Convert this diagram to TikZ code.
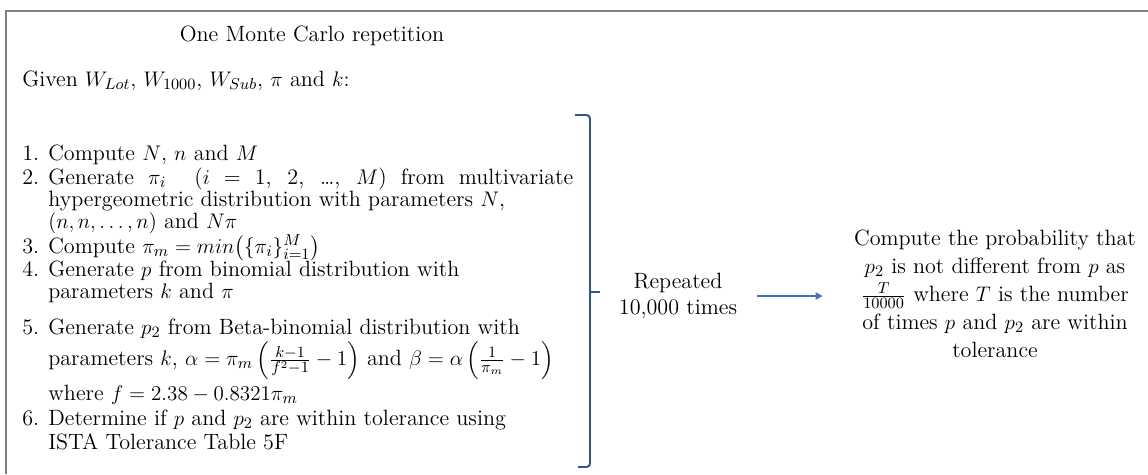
\documentclass[tikz,border=0pt]{standalone}
\usepackage{amsmath}
\usetikzlibrary{arrows.meta}
\definecolor{framegray}{RGB}{128,128,128}
\definecolor{bracketblue}{RGB}{47,85,151}
\definecolor{arrowblue}{RGB}{68,114,196}
\tikzset{txt/.style={inner sep=0pt, font=\fontsize{12.6}{12.5}\selectfont}}

\begin{document}
\begin{tikzpicture}[x=0.02cm, y=-0.02cm]
	\useasboundingbox (0,0) rectangle (1148,474);
	% frame
	\draw[framegray, line width=1.1pt] (6,474) -- (6,11) -- (1148,11);
	
	% Heading
	\node[txt, anchor=base] (title) at (312,41) {One Monte Carlo repetition};
	\node[txt, anchor=base west] (given) at (22,86) {Given $W_{Lot}$, $W_{1000}$, $W_{Sub}$, $\pi$ and $k$:};
	
	% Steps
	\node[txt, anchor=north west] (steps) at (22,145) {%
		\begin{tabular}{@{}p{0.52cm}@{}l@{}}
			1. & Compute $N$, $n$ and $M$\\
			2. & \makebox[10.5cm][s]{Generate $\pi_i$\ \ ($i$ = 1, 2, \ldots, $M$) from multivariate}\\
			& hypergeometric distribution with parameters $N$,\\
			& $(n, n, \ldots, n)$ and $N\pi$\\
			3. & Compute $\pi_m = min\bigl(\{\pi_i\}_{i=1}^{M}\bigr)$\\
			4. & Generate $p$ from binomial distribution with\\
			& parameters $k$ and $\pi$\\[8pt]
			5. & Generate $p_2$ from Beta-binomial distribution with\\
			& parameters $k$, $\alpha = \pi_m\left(\frac{k-1}{f^2-1}-1\right)$ and $\beta = \alpha\left(\frac{1}{\pi_m}-1\right)$\\[7.3pt]
			& where $f = 2.38 - 0.8321\pi_m$\\[1.7pt]
			6. & Determine if $p$ and $p_2$ are within tolerance using\\[1pt]
			& ISTA Tolerance Table 5F
		\end{tabular}};
	
	% Bracket
	\draw[bracketblue, line width=1.1pt, rounded corners=2pt] (575,115) -- (590,115) -- (590,467) -- (578,467);
	\draw[bracketblue, line width=1.1pt] (590,292) -- (600,292);
	
	% Repeat and result
	\node[txt, align=center, font=\fontsize{12.6}{14.7}\selectfont] (repeat) at (678,296) {Repeated\\10,000 times};
	\node[txt, align=center, font=\fontsize{12.6}{16}\selectfont] (result) at (995,294) {Compute the probability that\\
		$p_2$ is not different from $p$ as\\
		$\frac{T}{10000}$ where $T$ is the number\\
		of times $p$ and $p_2$ are within\\
		tolerance};
	\draw[arrowblue, line width=1.1pt, -{Triangle[length=4pt,width=4pt]}, shorten <=0.4cm, shorten >=0.62cm] (repeat.east) -- (repeat.east -| result.west);
	
\end{tikzpicture}
\end{document}
